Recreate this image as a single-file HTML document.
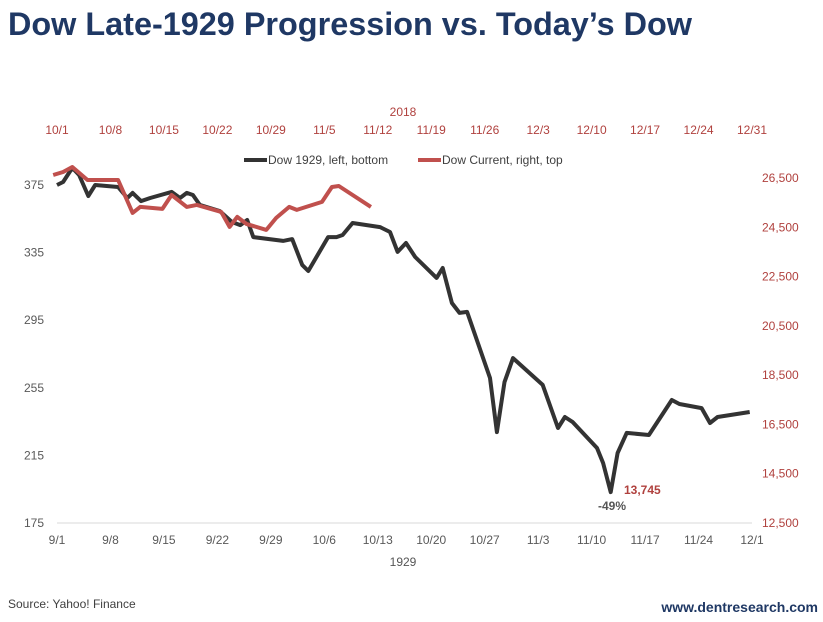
<!DOCTYPE html>
<html><head><meta charset="utf-8"><style>
body{margin:0;background:#fff;width:823px;height:617px;overflow:hidden;font-family:"Liberation Sans",Arial,sans-serif}
</style></head><body>
<svg width="823" height="617" viewBox="0 0 823 617">
<text x="8" y="35" font-size="32.4" font-weight="bold" fill="#1f3864">Dow Late-1929 Progression vs. Today’s Dow</text>
<text x="403" y="116" font-size="12" fill="#b0413e" text-anchor="middle">2018</text>
<text x="403" y="566" font-size="12" fill="#555" text-anchor="middle">1929</text>
<line x1="57" y1="523" x2="752" y2="523" stroke="#d9d9d9" stroke-width="1"/>
<g id="ax"></g>
<g id="series"></g>
<g>
<line x1="244" y1="160" x2="267" y2="160" stroke="#333" stroke-width="4"/>
<text x="268" y="164" font-size="12" fill="#404040">Dow 1929, left, bottom</text>
<line x1="418" y1="160" x2="441" y2="160" stroke="#c0504d" stroke-width="4"/>
<text x="442" y="164" font-size="12" fill="#404040">Dow Current, right, top</text>
</g>
<text x="612" y="510" font-size="12" font-weight="bold" fill="#555" text-anchor="middle">-49%</text>
<text x="624" y="494" font-size="12" font-weight="bold" fill="#b0413e">13,745</text>
<text x="8" y="608" font-size="12" fill="#404040">Source: Yahoo! Finance</text>
<text x="818" y="612" font-size="14" font-weight="bold" fill="#1f3864" text-anchor="end">www.dentresearch.com</text>
</svg>
<script>
const leftTicks=[175,215,255,295,335,375];
const rightTicks=[12500,14500,16500,18500,20500,22500,24500,26500];
const bottomLabels=["9/1","9/8","9/15","9/22","9/29","10/6","10/13","10/20","10/27","11/3","11/10","11/17","11/24","12/1"];
const topLabels=["10/1","10/8","10/15","10/22","10/29","11/5","11/12","11/19","11/26","12/3","12/10","12/17","12/24","12/31"];
const days1929=[0,0.8,2,2.9,4.1,5,8,9.2,9.9,11,12.2,15,16.1,17,17.8,18.7,21.3,22.9,24,24.9,25.7,29.6,30.8,32.1,32.9,35.5,36.6,37.4,38.7,42.3,43.6,44.6,45.7,46.9,49.7,50.5,51.7,52.7,53.7,56.7,57.6,58.6,59.7,63.6,65.6,66.5,67.5,70.7,71.5,72.5,73.4,74.6,77.5,80.5,81.5,84.4,85.5,86.5,90.7];
const values1929=[375,376.8,385.1,380.9,368.5,375,373.8,367.3,370.3,365.5,367.3,370.9,367.3,370.3,369.1,363.2,359.6,353.1,351.3,354.3,344.2,341.9,343,327.7,324.1,344.2,344.2,345.4,352.5,350.1,347.2,335.4,340.7,332.4,320,325.9,305.2,299.3,299.9,260.8,228.8,258.4,272.6,256.7,231.2,237.7,234.8,219.4,210.5,193.3,216.4,228.3,227.1,247.8,245.4,243,234.2,237.7,240.7];
const days2018=[-0.5,0.8,2,4,8,9.9,10.9,13.8,15,17,18.3,21.5,22.6,23.6,24.8,27.4,28.7,30.4,31.4,34.7,36,36.9,41.1];
const values2018=[26621,26743,26946,26419,26419,25083,25326,25245,25812,25326,25407,25124,24516,24921,24637,24394,24880,25326,25205,25529,26136,26176,25326];
const X0=57,X1=752,DAYS=91;
const xs=d=>X0+(X1-X0)*d/DAYS;
const yL=v=>185+(375-v)*1.69;
const yR=v=>523-(v-12500)*(345/14000);
const NS="http://www.w3.org/2000/svg";
const ax=document.getElementById('ax'),sg=document.getElementById('series');
function txt(p,x,y,s,fill,anchor){const t=document.createElementNS(NS,'text');t.setAttribute('x',x);t.setAttribute('y',y);t.setAttribute('font-size','12');t.setAttribute('fill',fill);t.setAttribute('text-anchor',anchor);t.textContent=s;p.appendChild(t);return t;}
leftTicks.forEach(v=>{const t=txt(ax,44,yL(v)+4,String(v),'#595959','end');

});
rightTicks.forEach(v=>{const t=txt(ax,762,yR(v)+4,v.toLocaleString('en-US'),'#b0413e','start');

});
bottomLabels.forEach((s,i)=>{const t=txt(ax,xs(i*7),544,s,'#595959','middle');

});
topLabels.forEach((s,i)=>{const t=txt(ax,xs(i*7),134,s,'#b0413e','middle');

});
function line(ds,vs,yf,col,name){const p=document.createElementNS(NS,'polyline');
p.setAttribute('points',ds.map((d,i)=>xs(d).toFixed(1)+','+yf(vs[i]).toFixed(1)).join(' '));
p.setAttribute('fill','none');p.setAttribute('stroke',col);p.setAttribute('stroke-width','4');p.setAttribute('stroke-linejoin','round');


sg.appendChild(p);}
line(days1929,values1929,yL,'#333333','dow-1929-line');
line(days2018,values2018,yR,'#c0504d','dow-current-line');
</script>
</body></html>
